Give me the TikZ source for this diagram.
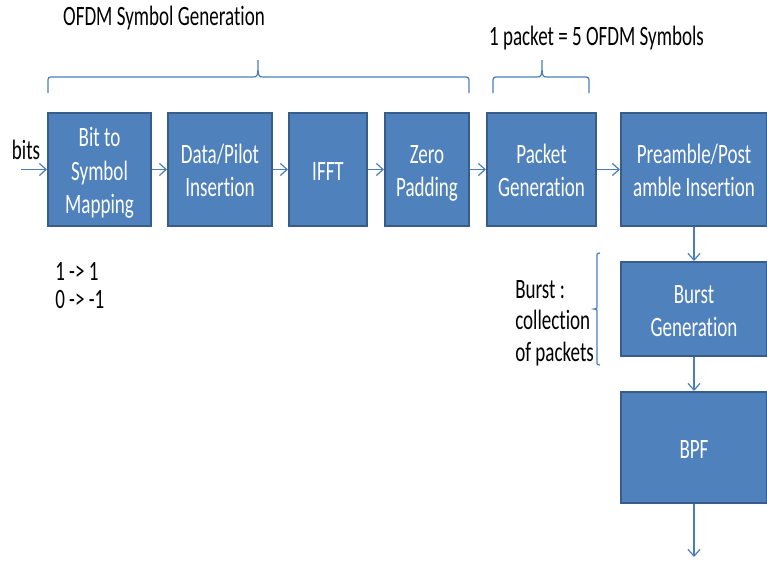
\documentclass[tikz,border=0pt]{standalone}
\usepackage{fontspec}
\setmainfont{Carlito}[FakeStretch=0.68, RawFeature={-liga;-clig;-calt;-dlig}]
\usetikzlibrary{arrows.meta}
\definecolor{boxfill}{HTML}{4F81BD}
\definecolor{boxedge}{HTML}{385D8A}
\definecolor{flow}{HTML}{4A7EBB}
% centred block of lines for the stage boxes, drawn a little low
\newcommand\stagetext[1]{\raisebox{-3pt}[\height][\depth]{\begin{tabular}{@{}c@{}}#1\end{tabular}}}

\begin{document}
\begin{tikzpicture}[x=0.75pt,y=-0.75pt,
  stage/.style={draw=boxedge, fill=boxfill, line width=1.5pt, text=white,
    inner sep=0pt, font=\fontsize{21}{25}\selectfont,
    minimum height=84.75pt},
  note/.style={text=black, inner sep=0pt, align=left,
    font=\fontsize{21}{23.6}\selectfont},
  flowarrow/.style={draw=flow, line width=0.9pt,
    -{Straight Barb[length=5pt,width=9pt]}},
  bracket/.style={draw=flow, line width=0.9pt}
]
\fill[white] (0,0) rectangle (767,561);
\useasboundingbox (0,0) rectangle (767,561);

% transmitter chain
\node[stage, minimum width=77.25pt] (map)  at (99.5,169.5) {\stagetext{Bit to\\Symbol\\Mapping}};
\node[stage, minimum width=78pt]    (pil)  at (220,169.5)  {\stagetext{Data/Pilot\\Insertion}};
\node[stage, minimum width=58.5pt]  (ifft) at (328,169.5)  {\stagetext{IFFT}};
\node[stage, minimum width=63pt]    (zp)   at (427,169.5)  {\stagetext{Zero\\Padding}};
\node[stage, minimum width=81.75pt] (pkt)  at (541.5,169.5) {\stagetext{Packet\\Generation}};
\node[stage, minimum width=109.5pt] (pre)  at (694,169.5)  {\stagetext{Preamble/Post\\amble Insertion}};
\node[stage, minimum width=109.5pt, minimum height=70.5pt] (bst) at (694,309) {\stagetext{Burst\\Generation}};
\node[stage, minimum width=109.5pt, minimum height=83.25pt] (bpf) at (694,447.5) {\stagetext{BPF}};

\coordinate (in)  at (21,169.5);
\coordinate (out) at (694,557);

\draw[flowarrow] (in) -- (map);
\draw[flowarrow] (map) -- (pil);
\draw[flowarrow] (pil) -- (ifft);
\draw[flowarrow] (ifft) -- (zp);
\draw[flowarrow] (zp) -- (pkt);
\draw[flowarrow] (pkt) -- (pre);
\draw[flowarrow] (pre) -- (bst);
\draw[flowarrow] (bst) -- (bpf);
\draw[flowarrow] (bpf) -- (out);

% annotations
\node[note] (inlbl) at (26,150) {bits};
\node[note] (ofdm)  at (164,18) {OFDM Symbol Generation};
\node[note] (plen)  at (596.5,38) {1 packet = 5 OFDM Symbols};
\node[note, anchor=west] (m1) at (55,271) {1 -> 1};
\node[note, anchor=west] (m0) at (55,300) {0 -> -1};
\node[note, anchor=west] (bdef) at (515,323) {Burst :\\collection\\of packets};

% braces
\draw[bracket] (48,93) -- (48,83) .. controls (48,77) .. (54,77) -- (252,77)
  .. controls (258,77) .. (258,60) .. controls (258,77) .. (264,77) -- (463,77)
  .. controls (469,77) .. (469,83) -- (469,93);
\draw[bracket] (493,93) -- (493,83) .. controls (493,77) .. (499,77) -- (536,77)
  .. controls (542,77) .. (542,60) .. controls (542,77) .. (548,77) -- (583,77)
  .. controls (589,77) .. (589,83) -- (589,93);
\draw[bracket] (600,253) .. controls (597,253) .. (597,257) -- (597,305)
  .. controls (597,309) .. (594,309) .. controls (597,309) .. (597,313) -- (597,361)
  .. controls (597,365) .. (600,365);
\end{tikzpicture}
\end{document}
